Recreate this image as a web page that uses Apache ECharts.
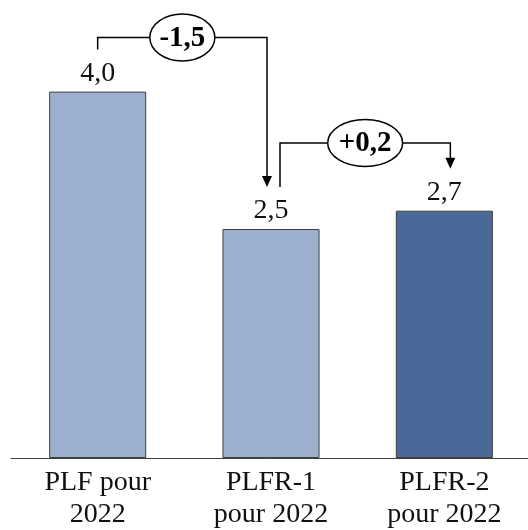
<!DOCTYPE html>
<html>
<head>
<meta charset="utf-8">
<script src="https://cdn.jsdelivr.net/npm/echarts@6/dist/echarts.min.js"></script>
<style>
html,body{margin:0;padding:0;background:#fff;}
#main{width:528px;height:530px;}
</style>
</head>
<body>
<div id="main"></div>
<script>
const categories = ['PLF pour\n2022', 'PLFR-1\npour 2022', 'PLFR-2\npour 2022'];
const values = [4.0, 2.5, 2.7];
const barColors = ['#9CAFCF', '#9CAFCF', '#4A6998'];
const changeLabels = ['-1,5', '+0,2'];
const connectorLevels = [4.59, 3.44];

const FONT = '"Liberation Serif", "Times New Roman", serif';
const chart = echarts.init(document.getElementById('main'));
chart.setOption({
  animation: false,
  textStyle: { fontFamily: FONT },
  grid: { left: 11, width: 520, top: 0, bottom: 72, outerBoundsMode: 'none', containLabel: false },
  xAxis: {
    type: 'category',
    data: categories,
    axisLine: { lineStyle: { color: '#404040', width: 1 } },
    axisTick: { show: false },
    axisLabel: {
      interval: 0, hideOverlap: false,
      fontFamily: FONT, fontSize: 28, lineHeight: 32, color: '#111', margin: 9
    }
  },
  yAxis: { type: 'value', min: 0, max: 5, show: false, splitLine: { show: false } },
  series: [{
    type: 'bar',
    barWidth: '56%',
    data: values.map((v, i) => ({ value: v, itemStyle: { color: barColors[i] } })),
    itemStyle: { borderColor: '#404040', borderWidth: 1 },
    label: {
      show: true, position: 'top', distance: 4,
      fontFamily: FONT, fontSize: 28, color: '#111',
      formatter: p => p.value.toFixed(1).replace('.', ',')
    }
  }]
});

function px(i, v) { return chart.convertToPixel({ gridIndex: 0 }, [i, v]); }
const gap = 42;
const elements = [];
function connector(from, to, level, label, dxFrom, dxTo, rx) {
  const a = px(from, values[from]);
  const b = px(to, values[to]);
  const lv = px(from, level)[1];
  const x1 = a[0] + dxFrom, x2 = b[0] + dxTo;
  const y1 = a[1] - gap, y2 = b[1] - gap;
  elements.push({ type: 'polyline', shape: { points: [[x1, y1], [x1, lv], [x2, lv], [x2, y2 - 10]] },
    style: { stroke: '#000', lineWidth: 1.5, fill: null } });
  elements.push({ type: 'polygon', shape: { points: [[x2 - 5, y2 - 11], [x2 + 5, y2 - 11], [x2, y2]] },
    style: { fill: '#000' } });
  const cx = (x1 + x2) / 2;
  elements.push({ type: 'ellipse', shape: { cx: cx, cy: lv, rx: rx, ry: 23.5 },
    style: { fill: '#fff', stroke: '#000', lineWidth: 1.5 } });
  elements.push({ type: 'text', x: cx, y: lv + 1, style: { text: label, fontFamily: FONT, fontSize: 29, fontWeight: 'bold',
    fill: '#000', align: 'center', verticalAlign: 'middle' } });
}
connector(0, 1, connectorLevels[0], changeLabels[0], 0, -4, 32.5);
connector(1, 2, connectorLevels[1], changeLabels[1], 9, 6, 37.5);
chart.setOption({ graphic: { elements: elements } });
</script>
</body>
</html>
